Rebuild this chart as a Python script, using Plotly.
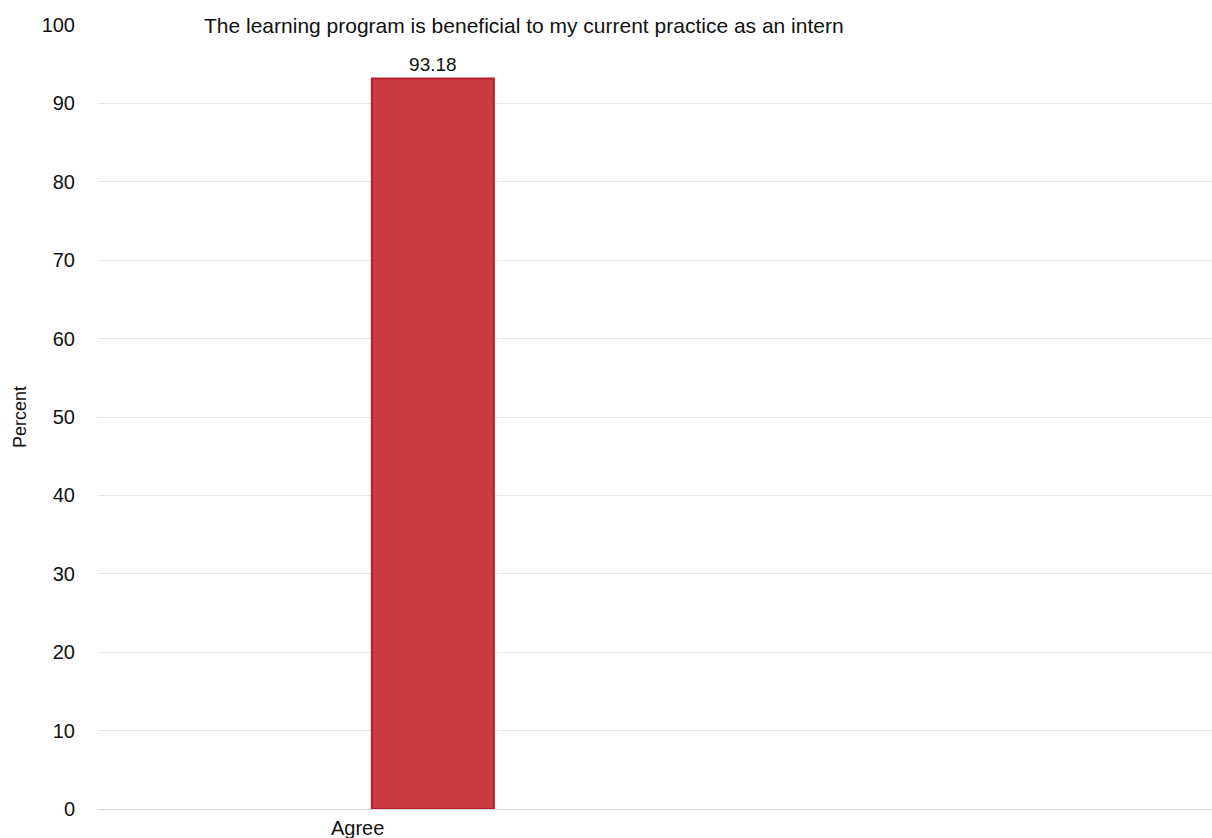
import plotly.graph_objects as go

categories = ["Agree"]
values = [93.18]
value_labels = ["93.18"]
title_text = "The learning program is beneficial to my current practice as an intern"
y_ticks = [0, 10, 20, 30, 40, 50, 60, 70, 80, 90, 100]

x_pos = list(range(len(categories)))

fig = go.Figure()
fig.add_trace(go.Bar(
    x=x_pos,
    y=values,
    width=0.4,
    text=value_labels,
    textposition="outside",
    textfont=dict(size=19, color="#111111"),
    cliponaxis=False,
    marker=dict(color="#cc3a42", line=dict(color="#b3202a", width=2)),
))

for xp, cat in zip(x_pos, categories):
    fig.add_annotation(x=xp, y=0, xref="x", yref="y", text=cat, showarrow=False,
                       yanchor="top", yshift=-6, xshift=-75,
                       font=dict(size=20, color="#111111"))

fig.add_annotation(x=0.3824, y=1.0, xref="paper", yref="paper", text=title_text,
                   showarrow=False, yanchor="middle", xanchor="center",
                   font=dict(size=21, color="#111111"))

fig.update_layout(
    width=1212, height=838,
    margin=dict(l=98, r=0, t=25, b=29),
    plot_bgcolor="white", paper_bgcolor="white",
    font=dict(family="Liberation Sans, Arial, sans-serif", color="#111111"),
    showlegend=False,
    xaxis=dict(range=[-1.098, 2.555], showticklabels=False, showgrid=False,
               zeroline=False, showline=False, ticks=""),
    yaxis=dict(range=[0, 100], tickvals=y_ticks, showgrid=True, gridcolor="#e6e6e6",
               gridwidth=1, zeroline=True, zerolinecolor="#d8d8d8", zerolinewidth=1,
               showline=False, ticks="", ticklabelstandoff=22,
               tickfont=dict(size=20, color="#111111"),
               title=dict(text="Percent", standoff=10, font=dict(size=18, color="#111111"))),
)

fig.write_html("out.html", config={"displayModeBar": False},
               post_script="document.body.style.margin='0';")
